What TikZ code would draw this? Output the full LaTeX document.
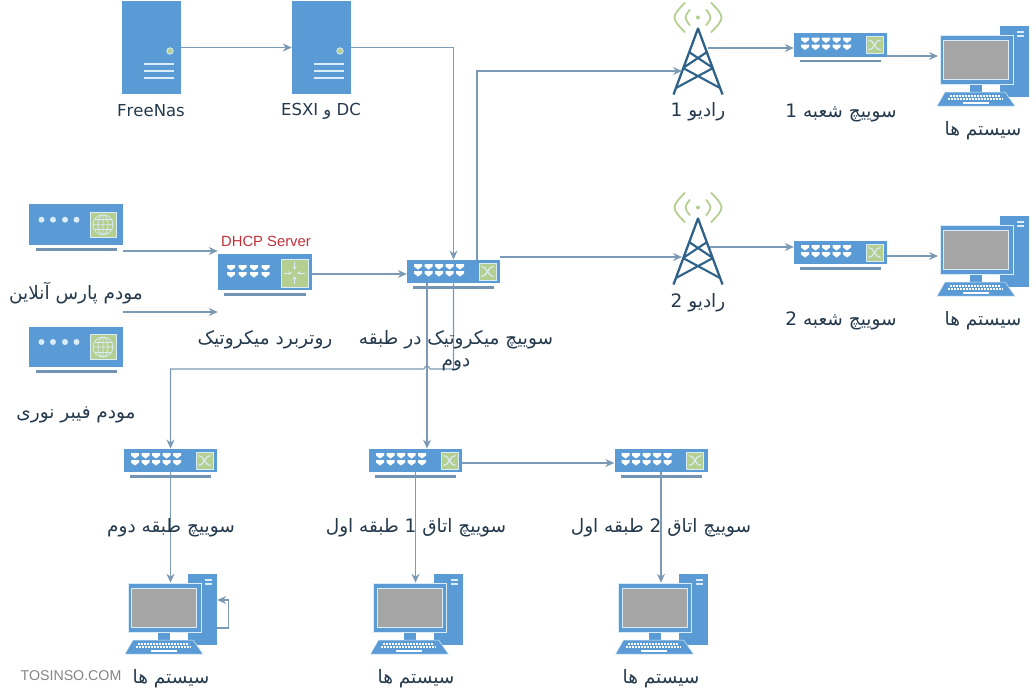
\documentclass[tikz,border=0pt]{standalone}
\usepackage{fontspec}
\usepackage{tikz}
\usetikzlibrary{arrows.meta}
\setmainfont{DejaVu Sans}
\newfontfamily\farsifont[Script=Arabic]{DejaVu Sans}
\newfontfamily\armfont{Liberation Sans}
\TeXXeTstate=1
\definecolor{devblue}{HTML}{5B9BD5}
\definecolor{footblue}{HTML}{7393B3}
\definecolor{linkcol}{HTML}{7C9AB5}
\definecolor{glass}{HTML}{A5A5A5}
\definecolor{leaf}{HTML}{B4CF90}
\definecolor{edgelight}{HTML}{D9ECF8}
\definecolor{towercol}{HTML}{2E6288}
\definecolor{inkcol}{HTML}{24394C}
\definecolor{dhcpred}{HTML}{C0303A}
\newcommand{\fa}[1]{\beginR #1\endR}
\tikzset{
	devbody/.style={rectangle,fill=devblue,inner sep=0pt},
	foot/.style={footblue,line width=2.8pt},
	panel/.style={fill=leaf,draw=edgelight,line width=.9pt},
	link/.style={-{Stealth[length=9pt,width=8pt]},draw=linkcol,line width=1.1pt},
	lbl/.style={font=\farsifont\fontsize{18.5}{22}\selectfont,text=inkcol,align=center,inner sep=0pt},
	lbl latin/.style={lbl,font=\farsifont\fontsize{16.5}{20}\selectfont},
	port mark/.pic={\fill[white] (0,0) -- (8,0) -- (8,2.5) -- (4,5.5) -- (0,2.5) -- cycle;},
	server icon/.pic={
		\node[devbody,minimum width=59pt,minimum height=93pt] (-body) at (0,0) {};
		\fill[leaf,draw=edgelight,line width=.8pt] (18.5,3.5) circle (3.2pt);
		\foreach \y in {16.5,23.5,30.5}
			\draw[edgelight,line width=1.7pt] (-7.5,\y) -- (22.5,\y);
	},
	switch icon/.pic={
		\node[devbody,minimum width=93pt,minimum height=23.5pt] (-body) at (0,0) {};
		\draw[foot] (-40.5,16) -- (40.5,16);
		\foreach \col in {0,...,4}
			\foreach \row in {0,1}
				\pic at (-39.5+10.5*\col,-7.5+7*\row) {port mark};
		\draw[panel] (25.5,-8.5) rectangle (42.5,8.5);
		\draw[edgelight,line width=1.2pt] (28,-5) .. controls (34,-5) and (34,5) .. (40,5);
		\draw[edgelight,line width=1.2pt] (28,5) .. controls (34,5) and (34,-5) .. (40,-5);
	},
	router icon/.pic={
		\node[devbody,minimum width=94pt,minimum height=36pt] (-body) at (0,0) {};
		\draw[foot] (-41,22.5) -- (41,22.5);
		\foreach \col in {0,...,3}
			\foreach \row in {0,1}
				\pic at (-38+11.5*\col,-7+7*\row) {port mark};
		\draw[panel] (16,-13) rectangle (43,15);
		\draw[edgelight,line width=.9pt,-{Stealth[length=3.5pt,width=3.5pt]}] (29.5,-10) -- (29.5,-2);
		\draw[edgelight,line width=.9pt,-{Stealth[length=3.5pt,width=3.5pt]}] (29.5,12) -- (29.5,4);
		\draw[edgelight,line width=.9pt,-{Stealth[length=3.5pt,width=3.5pt]}] (19,1) -- (27,1);
		\draw[edgelight,line width=.9pt,-{Stealth[length=3.5pt,width=3.5pt]}] (40,1) -- (32,1);
	},
	modem icon/.pic={
		\node[devbody,minimum width=94pt,minimum height=40.5pt] (-body) at (0,0) {};
		\draw[foot] (-40,24.5) -- (41,24.5);
		\foreach \x in {-34.5,-23,-11,0.5}
			\fill[edgelight] (\x,-5) circle (3pt);
		\draw[panel] (14,-12.5) rectangle (40,12.5);
		\draw[edgelight,line width=.7pt] (27,0) circle (10pt) (17,0) -- (37,0) (27,-10) -- (27,10) (27,0) ellipse (5pt and 10pt);
		\draw[edgelight,line width=.6pt] (18.5,-5) -- (35.5,-5) (18.5,5) -- (35.5,5);
	},
	radio icon/.pic={
		\node[inner sep=0pt,minimum width=50pt,minimum height=67pt] (-body) at (0,0) {};
		\draw[towercol,line width=2.3pt,line join=round] (-24.5,33) -- (0,-33) -- (24.5,33);
		\draw[towercol,line width=2.1pt] (-9,-9.5) -- (15,6.5) (9,-9.5) -- (-15,6.5) (-15,6.5) -- (22,26.5) (15,6.5) -- (-22,26.5);
		\fill[leaf] (0,-44) circle (2pt);
		\draw[leaf,line width=1.8pt] (-8,-52) .. controls (-14,-44) .. (-8,-36) (8,-52) .. controls (14,-44) .. (8,-36);
		\draw[leaf,line width=1.8pt] (-13,-59) .. controls (-27,-44) .. (-13,-29) (13,-59) .. controls (27,-44) .. (13,-29);
	},
	pc icon/.pic={
		\node[devbody,minimum width=29pt,minimum height=71pt] (-tower) at (38,2) {};
		\draw[edgelight,line width=1.2pt] (40.5,-27.5) -- (47.5,-27.5) (40.5,-23.5) -- (47.5,-23.5);
		\fill[devblue] (-6.5,24) rectangle (5.5,33);
		\fill[devblue,draw=edgelight,line width=.5pt] (-31.5,32.5) -- (28.5,32.5) -- (38.5,46.5) -- (-39.5,46.5) -- cycle;
		\draw[white,line width=2pt,dash pattern=on 2pt off 1pt] (-27,36) -- (24,36) (-29,39.5) -- (26,39.5);
		\draw[white,line width=2pt] (-14,43.5) -- (12,43.5);
		\node[devbody,draw=edgelight,line width=.5pt,minimum width=73pt,minimum height=49pt] (-body) at (0,0) {};
		\draw[fill=glass,draw=edgelight,line width=1pt] (-33,-19) rectangle (32,19.5);
	}
}

\begin{document}
\begin{tikzpicture}[x=1pt,y=-1pt]
	\useasboundingbox (0,0) rectangle (1036,697);
	\pic (freenas) at (151.5,47.5) {server icon};
	\pic (esxi) at (321.5,47.5) {server icon};
	\pic (modempars) at (76,224.7) {modem icon};
	\pic (modemfiber) at (76,347) {modem icon};
	\pic (router) at (265,272) {router icon};
	\pic (swmain) at (453.5,271.5) {switch icon};
	\pic (radioa) at (698,61.5) {radio icon};
	\pic (radiob) at (698,251.5) {radio icon};
	\pic (swbrancha) at (840.5,45) {switch icon};
	\pic (swbranchb) at (840.5,252.5) {switch icon};
	\pic (pca) at (976.5,59.5) {pc icon};
	\pic (pcb) at (976.5,249.5) {pc icon};
	\pic (swfloor) at (170.5,460.5) {switch icon};
	\pic (swrooma) at (415.5,460.5) {switch icon};
	\pic (swroomb) at (661,460.5) {switch icon};
	\pic (pcfloor) at (164.5,607.5) {pc icon};
	\pic (pcrooma) at (410,607.5) {pc icon};
	\pic (pcroomb) at (655,607.5) {pc icon};
	\coordinate (parsout) at (123,251);
	\coordinate (fiberout) at (123,312);
	\coordinate (jumpmark) at (427,369);
	\coordinate (radioina) at (682,71);
	\coordinate (radioinb) at (682,257);
	\coordinate (radioouta) at (708,48);
	\coordinate (radiooutb) at (710,247);
	\coordinate (pcina) at (938,56);
	\coordinate (pcinb) at (938,256);
	\draw[link] (freenas-body) -- (esxi-body);
	\draw[link] (esxi-body) -| (swmain-body.north);
	\draw[link] (parsout) -- (parsout -| router-body.west);
	\draw[link] (fiberout) -- (fiberout -| router-body.west);
	\draw[link] ([yshift=-2pt]router-body.east) -- ([yshift=-2.5pt]swmain-body.west);
	\draw[link] ([xshift=23.5pt]swmain-body.north) |- (radioina);
	\draw[link] (swmain-body.north east |- radioinb) -- (radioinb);
	\draw[link] (radioouta) -- (radioouta -| swbrancha-body.west);
	\draw[link] (radiooutb) -- (radiooutb -| swbranchb-body.west);
	\draw[link] (swbrancha-body.east |- pcina) -- (pcina);
	\draw[link] (swbranchb-body.east |- pcinb) -- (pcinb);
	\draw[link] (swmain-body.south) |- ([xshift=3pt]jumpmark) .. controls ([xshift=2pt,yshift=4pt]jumpmark) and ([xshift=-2pt,yshift=4pt]jumpmark) .. ([xshift=-3pt]jumpmark) -| (swfloor-body.north);
	\draw[link] (jumpmark |- swmain-body.south) -- (jumpmark |- swrooma-body.north);
	\draw[link] ([yshift=-2.5pt]swrooma-body.east) -- ([yshift=-2.5pt]swroomb-body.west);
	\draw[link] (swfloor-body.south) -- (swfloor-body.south |- pcfloor-body.north);
	\draw[link] (swrooma-body.south) -- (swrooma-body.south |- pcrooma-body.north);
	\draw[link] (swroomb-body.south) -- (swroomb-body.south |- pcroomb-body.north);
	\draw[link] ([yshift=-18.5pt]pcfloor-tower.east) -- ++(11,0) |- ([yshift=9.5pt]pcfloor-tower.east);
	\node[lbl latin] (lblfreenas) at (151,111) {FreeNas};
	\node[lbl latin] (lblesxi) at (321,111) {\fa{\beginL DC\endL{} و \beginL ESXI\endL}};
	\node[lbl] (lblpars) at (76,293) {\fa{مودم پارس آنلاین}};
	\node[lbl] (lblfiber) at (76,415) {\fa{مودم فیبر نوری}};
	\node[lbl,font=\armfont\fontsize{14.8}{17}\selectfont,text=dhcpred] (lbldhcp) at (266,241) {DHCP Server};
	\node[lbl] (lblrouter) at (265,340) {\fa{روتربرد میکروتیک}};
	\node[lbl] (lblmain) at (456,351) {\fa{سوییچ میکروتیک در طبقه}\\\fa{دوم}};
	\node[lbl] (lblradioa) at (698,112) {\fa{رادیو 1}};
	\node[lbl] (lblradiob) at (698,303) {\fa{رادیو 2}};
	\node[lbl] (lblbrancha) at (841,113) {\fa{سوییچ شعبه 1}};
	\node[lbl] (lblbranchb) at (841,321) {\fa{سوییچ شعبه 2}};
	\node[lbl] (lblpca) at (983,131) {\fa{سیستم ها}};
	\node[lbl] (lblpcb) at (983,321) {\fa{سیستم ها}};
	\node[lbl] (lblfloor) at (171,528) {\fa{سوییچ طبقه دوم}};
	\node[lbl] (lblrooma) at (416,528) {\fa{سوییچ اتاق 1 طبقه اول}};
	\node[lbl] (lblroomb) at (661,528) {\fa{سوییچ اتاق 2 طبقه اول}};
	\node[lbl] (lblpcfloor) at (171,679) {\fa{سیستم ها}};
	\node[lbl] (lblpcrooma) at (416,679) {\fa{سیستم ها}};
	\node[lbl] (lblpcroomb) at (661,679) {\fa{سیستم ها}};
	\node[lbl,font=\armfont\fontsize{14.2}{16}\selectfont,text=glass!80!black] (lblmark) at (71,676) {TOSINSO.COM};
\end{tikzpicture}
\end{document}
